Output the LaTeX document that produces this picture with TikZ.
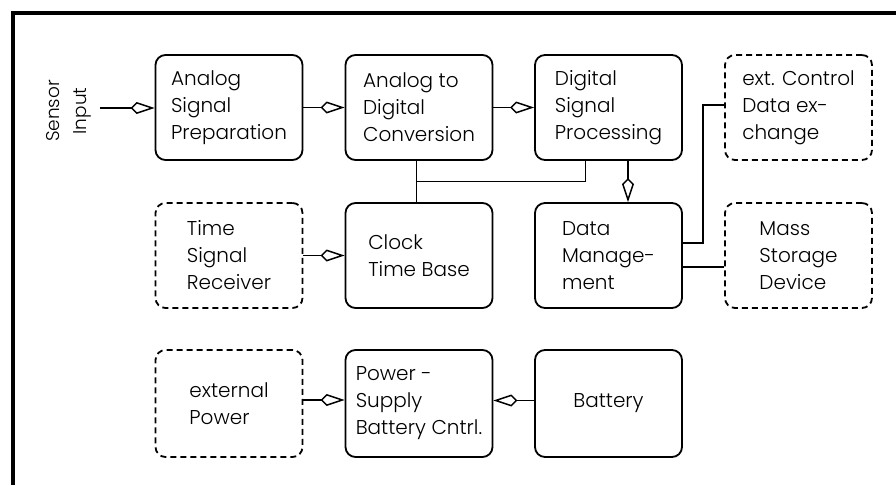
\documentclass[tikz,border=0pt]{standalone}
\usepackage{fontspec}
\setmainfont{Poppins}[UprightFont=* Light]
\usetikzlibrary{arrows.meta}
\begin{document}
\begin{tikzpicture}[x=1pt,y=-1pt,
  blk/.style={draw, line width=1.8pt, rounded corners=10pt, minimum width=147pt, minimum height=105pt, align=left, font=\fontsize{20}{27}\selectfont, inner sep=0pt},
  ext/.style={blk, dash pattern=on 6pt off 4pt},
  link/.style={line width=1.5pt},
  flow/.style={link, -{Kite[open, length=24pt, width=12pt, inset=6pt]}}
]
\useasboundingbox (0,0) rectangle (896,485);
\draw[line width=4pt] (13,485) -- (13,12.5) -- (896,12.5);

\node[blk] (asp) at (229,107.5) {Analog\\Signal\\Preparation};
\node[blk] (adc) at (419,107.5) {Analog to\\Digital\\Conversion};
\node[blk] (dsp) at (608.5,107.5) {Digital\\Signal\\Processing};
\node[ext] (ecd) at (798.5,107.5) {ext. Control\\Data ex-\\change};
\node[ext] (tsr) at (229,255.5) {Time\\Signal\\Receiver};
\node[blk] (clk) at (419,255.5) {Clock\\Time Base};
\node[blk] (dm) at (608.5,255.5) {Data\\Manage-\\ment};
\node[ext] (msd) at (798.5,255.5) {Mass\\Storage\\Device};
\node[ext, minimum height=107pt] (ep) at (229,403.5) {external\\Power};
\node[blk, minimum height=107pt] (ps) at (419,403.5) {Power -\\Supply\\Battery Cntrl.};
\node[blk, minimum height=107pt] (bat) at (608.5,403.5) {Battery};

\node[rotate=90, align=center, font=\fontsize{18.5}{27}\selectfont, inner sep=0pt] (sin) at (69,111) {Sensor\\Input};
\coordinate (src) at (100,108);

\draw[flow] (src) -- (src -| asp.west);
\draw[flow] (asp.east) -- (adc.west);
\draw[flow] (adc.east) -- (dsp.west);
\draw[flow] ([xshift=19.5pt]dsp.south) -- ([xshift=19.5pt]dm.north);
\draw[flow] (tsr.east) -- (clk.west);
\draw[flow] ([yshift=3.5pt]ep.east) -- ([yshift=3.5pt]ps.west);
\draw[flow] ([yshift=3pt]bat.west) -- ([yshift=3pt]ps.east);

\coordinate (j1) at (416.7,181.7);
\draw[link] ([xshift=-2.3pt]adc.south) -- ([xshift=-2.3pt]clk.north);
\draw[link] (j1) -| ([xshift=-22.8pt]dsp.south);

\coordinate (bend) at (703,105);
\draw[link] ([yshift=12.5pt]dm.east) -| (bend) -- (bend -| ecd.west);
\draw[link] ([yshift=-11.5pt]dm.east) -- ([yshift=-11.5pt]msd.west);
\end{tikzpicture}
\end{document}
